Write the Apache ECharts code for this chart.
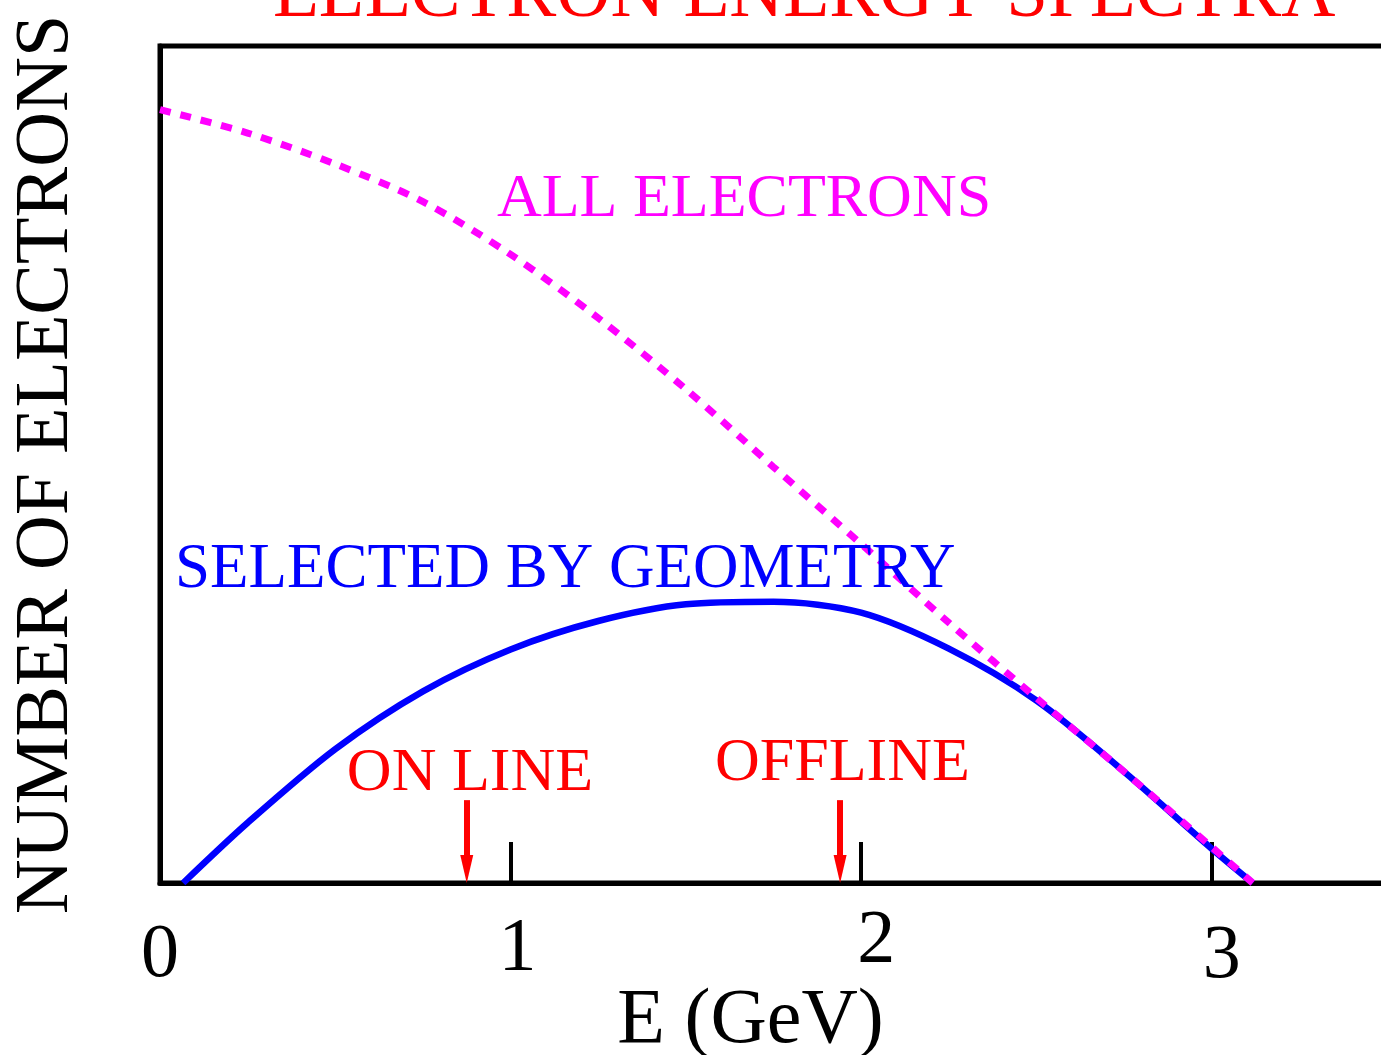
<!DOCTYPE html>
<html>
<head>
<meta charset="utf-8">
<script src="https://cdn.jsdelivr.net/npm/echarts@6/dist/echarts.min.js"></script>
<style>
html,body{margin:0;padding:0;background:#fff;}
#chart{width:1381px;height:1055px;}
</style>
</head>
<body>
<div id="chart"></div>
<script>
// ---- data ----
const titleText = 'ELECTRON ENERGY SPECTRA';
const xAxisName = 'E (GeV)';
const yAxisName = 'NUMBER OF ELECTRONS';
const xTicks = [0, 1, 2, 3];

// "ALL ELECTRONS" curve (dashed magenta)
const allE = [0, 0.25, 0.5, 0.75, 1.0, 1.25, 1.5, 1.75, 2.0, 2.25, 2.5, 2.75, 3.0, 3.117];
const allN = [0.924, 0.896, 0.859, 0.814, 0.751, 0.675, 0.590, 0.497, 0.405, 0.311, 0.221, 0.133, 0.043, 0];

// "SELECTED BY GEOMETRY" curve (solid blue)
const selE = [0.066, 0.25, 0.5, 0.75, 1.0, 1.25, 1.5, 1.75, 2.0, 2.25, 2.5, 2.75, 3.0, 3.117];
const selN = [0, 0.072, 0.160, 0.229, 0.279, 0.313, 0.333, 0.336, 0.323, 0.280, 0.218, 0.133, 0.041, 0];

// annotations
const noteText = ['ALL ELECTRONS', 'SELECTED BY GEOMETRY', 'ON LINE', 'OFFLINE'];
const noteE = [0.961, 0.043, 0.533, 1.583];
const noteN = [0.816, 0.374, 0.130, 0.142];

// cut arrows (energy, arrow top)
const arrowE = [0.875, 1.94];
const arrowTop = [0.099, 0.099];

// ---- styles ----
const FONT = '"Liberation Serif", "Times New Roman", serif';
const noteColor = {
  'ALL ELECTRONS': '#ff00ff',
  'SELECTED BY GEOMETRY': '#0000ff',
  'ON LINE': '#ff0000',
  'OFFLINE': '#ff0000'
};
const noteSize = {
  'ALL ELECTRONS': 62,
  'SELECTED BY GEOMETRY': 63,
  'ON LINE': 62,
  'OFFLINE': 62
};
// quirky hand-placed tick label offsets in the reference
const tickStyle = {
  '0': {padding: [15, 0, 0, 0]},
  '1': {padding: [9, 0, 0, 14]},
  '2': {padding: [1, 0, 0, 30]},
  '3': {padding: [16, 0, 0, 20]}
};

const chart = echarts.init(document.getElementById('chart'), null, {renderer: 'canvas'});

const gridTop = 46, gridBottom = 172;
const plotH = 1055 - gridTop - gridBottom;
const headLen = 28;
const headOffset = (headLen / 2) / plotH; // tip of arrow on axis

const rich = {};
Object.keys(tickStyle).forEach(k => {
  rich['t' + k] = Object.assign({fontSize: 76, fontFamily: FONT, color: '#000'}, tickStyle[k]);
});

const option = {
  animation: false,
  backgroundColor: '#fff',
  title: {
    text: titleText,
    left: 268,
    top: -46,
    textStyle: {color: '#ff0000', fontSize: 75, fontFamily: FONT, fontWeight: 'normal'}
  },
  grid: {
    left: 160, right: -6, top: gridTop, bottom: gridBottom,
    containLabel: false, outerBoundsMode: 'none',
    show: true, borderColor: '#000', borderWidth: 5, backgroundColor: 'transparent'
  },
  xAxis: {
    type: 'value', min: 0, max: 3.5, interval: 1,
    name: xAxisName, nameLocation: 'middle', nameGap: 100, nameMoveOverlap: false,
    nameTextStyle: {fontSize: 78, fontFamily: FONT, color: '#000', padding: [0, 46, 0, 0]},
    axisLine: {show: true, lineStyle: {color: '#000', width: 5}},
    axisTick: {show: true, inside: true, length: 41, lineStyle: {color: '#000', width: 4}},
    splitLine: {show: false},
    axisLabel: {
      margin: 20, fontSize: 76, fontFamily: FONT, color: '#000',
      formatter: v => xTicks.indexOf(v) >= 0 ? '{t' + v + '|' + v + '}' : '',
      rich: rich
    }
  },
  yAxis: {
    type: 'value', min: 0, max: 1,
    name: yAxisName, nameLocation: 'middle', nameGap: 75, nameRotate: 90, nameMoveOverlap: false,
    nameTextStyle: {fontSize: 76, fontFamily: FONT, color: '#000'},
    axisLine: {show: true, lineStyle: {color: '#000', width: 5}},
    axisTick: {show: false}, axisLabel: {show: false}, splitLine: {show: false}
  },
  series: [
    {
      name: 'selected', type: 'line', smooth: 0.3, symbol: 'none',
      data: selE.map((e, i) => [e, selN[i]]),
      lineStyle: {color: '#0000ff', width: 6.5}, z: 2
    },
    {
      name: 'all', type: 'line', smooth: 0.3, symbol: 'none',
      data: allE.map((e, i) => [e, allN[i]]),
      lineStyle: {color: '#ff00ff', width: 7, type: [11, 10], cap: 'butt'}, z: 3
    },
    {
      name: 'notes', type: 'scatter', symbolSize: 0, silent: true, z: 4,
      itemStyle: {opacity: 1},
      data: noteText.map((t, i) => ({
        value: [noteE[i], noteN[i]],
        label: {
          show: true, position: 'right', distance: 0, formatter: t, opacity: 1,
          color: noteColor[t], fontSize: noteSize[t], fontFamily: FONT
        }
      })),
      markLine: {
        silent: true, animation: false,
        symbol: ['none', 'triangle'], symbolSize: [13, headLen],
        label: {show: false},
        lineStyle: {color: '#ff0000', width: 6, type: 'solid', opacity: 1},
        itemStyle: {color: '#ff0000', opacity: 1},
        emphasis: {disabled: true},
        data: arrowE.map((e, i) => [
          {coord: [e, arrowTop[i]]},
          {coord: [e, headOffset]}
        ])
      }
    }
  ]
};
chart.setOption(option);
</script>
</body>
</html>
